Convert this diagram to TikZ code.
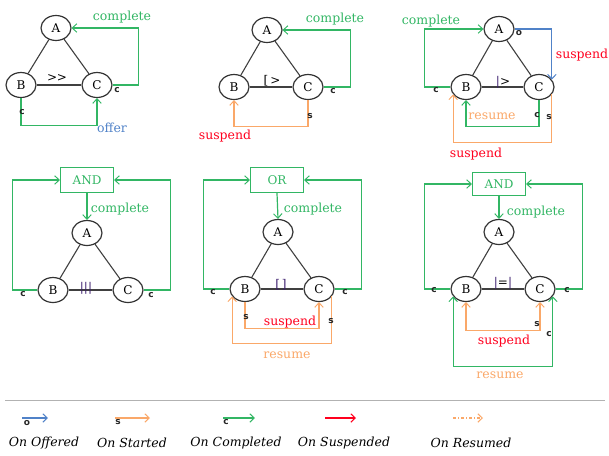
\documentclass[tikz,border=0pt]{standalone}
\usepackage{fontspec}
\setmainfont{DejaVu Serif}
\newfontfamily\smallsans{DejaVu Sans}
\usetikzlibrary{shapes.geometric,arrows.meta}
\definecolor{cgreen}{RGB}{50,182,100}
\definecolor{cblue}{RGB}{80,130,200}
\definecolor{corange}{RGB}{250,168,105}
\definecolor{cred}{RGB}{255,0,30}
\definecolor{cpurple}{RGB}{60,30,110}
\tikzset{
  st/.style={ellipse,draw=black!80,line width=1.2pt,minimum width=30pt,minimum height=25pt,inner sep=0pt,font=\fontsize{12}{14}\selectfont},
  opbox/.style={rectangle,draw=cgreen,line width=1.2pt,minimum width=53pt,minimum height=25pt,inner sep=0pt,text=cgreen,font=\fontsize{12}{14}\selectfont},
  edge/.style={draw=black!75,line width=1.1pt},
  tip/.style={-{Straight Barb[length=4.5pt,width=8.5pt,line width=1pt]}},
  bitip/.style={{Straight Barb[length=4.5pt,width=8.5pt,line width=1pt]}-{Straight Barb[length=4.5pt,width=8.5pt,line width=1pt]}},
  garr/.style={draw=cgreen,line width=1.2pt},
  oarr/.style={draw=corange,line width=1.2pt},
  barr/.style={draw=cblue,line width=1.2pt},
  rarr/.style={draw=cred,line width=1.2pt},
  lbl/.style={font=\fontsize{12.5}{14}\selectfont,inner sep=0pt},
  sm/.style={font=\smallsans\bfseries\fontsize{9}{10}\selectfont,text=black!85,inner sep=0pt},
  opl/.style={font=\fontsize{12}{14}\selectfont,inner sep=0pt},
  leg/.style={font=\itshape\fontsize{12.5}{14}\selectfont,inner sep=0pt}
}
\begin{document}
\begin{tikzpicture}[x=1pt,y=-1pt]
\useasboundingbox (0,0) rectangle (609,455);
% ---------- Panel 1 ----------
\node[st] (A1) at (56,28) {A};
\node[st] (B1) at (21,85) {B};
\node[st] (C1) at (97,85) {C};
\draw[edge] (A1) -- (B1);
\draw[edge] (A1) -- (C1);
\draw[edge] (B1) -- (C1);
\node[opl] (op1) at (57,78) {\textgreater\kern-0.5pt\textgreater};
\draw[garr,tip] (C1.east) -- ++(26,0) |- (A1.east);
\node[lbl,text=cgreen] (t1a) at (122,17) {complete};
\node[sm] (c1a) at (117,90) {c};
\draw[garr,tip] (B1.south) -- ++(0,27) -| (C1.south);
\node[sm] (c1b) at (22,112) {c};
\node[lbl,text=cblue] (t1b) at (112,128) {offer};
% ---------- Panel 2 ----------
\node[st] (A2) at (267,30) {A};
\node[st] (B2) at (234,87) {B};
\node[st] (C2) at (308,87) {C};
\draw[edge] (A2) -- (B2);
\draw[edge] (A2) -- (C2);
\draw[edge] (B2) -- (C2);
\node[opl] (op2) at (272,81) {[\,\textgreater};
\draw[garr,tip] (C2.east) -- ++(27,0) |- (A2.east);
\node[lbl,text=cgreen] (t2a) at (335,19) {complete};
\node[sm] (c2a) at (333,91) {c};
\draw[oarr,tip] (C2.south) -- ++(0,26) -| (B2.south);
\node[sm] (s2a) at (310,116) {s};
\node[lbl,text=cred] (t2b) at (225,136) {suspend};
% ---------- Panel 3 ----------
\node[st] (A3) at (499,29) {A};
\node[st] (B3) at (466,87) {B};
\node[st] (C3) at (539,87) {C};
\draw[edge] (A3) -- (B3);
\draw[edge] (A3) -- (C3);
\draw[edge] (B3) -- (C3);
\node[opl] (op3) at (503,82) {\textcolor{cpurple}{|}\textgreater};
\draw[garr,tip] (B3.west) -- ++(-26,0) |- (A3.west);
\node[lbl,text=cgreen] (t3a) at (431,21) {complete};
\node[sm] (c3a) at (436,90) {c};
\draw[barr,tip] (A3.east) -| (C3.30);
\node[sm] (o3a) at (519,33) {o};
\node[lbl,text=cred] (t3b) at (582,55) {suspend};
\draw[garr,tip] (C3.south) -- ++(0,26) -| (B3.south);
\node[sm] (c3b) at (537,115) {c};
\node[lbl,text=corange] (t3c) at (492,116) {resume};
\draw[oarr,tip] (C3.-30) -- ++(0,48) -| (B3.-150);
\node[sm] (s3a) at (549,117) {s};
\node[lbl,text=cred] (t3d) at (476,154) {suspend};
% ---------- Panel 4 ----------
\node[opbox] (N4) at (87,180) {AND};
\node[st] (A4) at (87,233) {A};
\node[st] (B4) at (53,290) {B};
\node[st] (C4) at (128,290) {C};
\draw[edge] (A4) -- (B4);
\draw[edge] (A4) -- (C4);
\draw[edge] (B4) -- (C4);
\node[opl,text=cpurple] (op4) at (86,288) {|||};
\draw[garr,tip] (B4.west) -- ++(-25,0) |- (N4.west);
\draw[garr,tip] (C4.east) -- ++(27,0) |- (N4.east);
\draw[garr,tip] (N4.south) -- (A4.north);
\node[lbl,text=cgreen] (t4a) at (120,209) {complete};
\node[sm] (c4a) at (23,294) {c};
\node[sm] (c4b) at (151,295) {c};
% ---------- Panel 5 ----------
\node[opbox] (N5) at (277,180) {OR};
\node[st] (A5) at (278,232) {A};
\node[st] (B5) at (245,289) {B};
\node[st] (C5) at (319,289) {C};
\draw[edge] (A5) -- (B5);
\draw[edge] (A5) -- (C5);
\draw[edge] (B5) -- (C5);
\node[opl,text=cpurple] (op5) at (281,285) {[\,]};
\draw[garr,tip] (B5.west) -- ++(-26,0) |- (N5.west);
\draw[garr,tip] (C5.east) -- ++(27,0) |- (N5.east);
\draw[garr,tip] (N5.south) -- (A5.north);
\node[lbl,text=cgreen] (t5a) at (313,209) {complete};
\node[sm] (c5a) at (213,292) {c};
\node[sm] (c5b) at (345,292) {c};
\draw[oarr,tip] (B5.south) -- ++(0,26) -| (C5.south);
\node[sm] (s5a) at (246,317) {s};
\node[lbl,text=cred] (t5b) at (290,322) {suspend};
\draw[oarr,tip] (C5.-30) -- ++(0,47) -| (B5.-150);
\node[sm] (s5b) at (331,321) {s};
\node[lbl,text=corange] (t5c) at (287,355) {resume};
% ---------- Panel 6 ----------
\node[opbox,minimum height=23pt] (N6) at (499,184) {AND};
\node[st] (A6) at (499,232) {A};
\node[st] (B6) at (466,289) {B};
\node[st] (C6) at (540,289) {C};
\draw[edge] (A6) -- (B6);
\draw[edge] (A6) -- (C6);
\draw[edge] (B6) -- (C6);
\node[opl] (op6) at (503,283) {\textcolor{cpurple}{|}=\textcolor{cpurple}{|}};
\draw[garr,tip] (B6.west) -- ++(-26,0) |- (N6.west);
\draw[garr,tip] (C6.east) -- ++(27,0) |- (N6.east);
\draw[garr,tip] (N6.south) -- (A6.north);
\node[lbl,text=cgreen] (t6a) at (536,212) {complete};
\node[sm] (c6a) at (434,290) {c};
\node[sm] (c6b) at (567,290) {c};
\draw[oarr,bitip] (B6.south) -- ++(0,28) -| (C6.south);
\node[sm] (s6a) at (537,324) {s};
\node[lbl,text=cred] (t6b) at (504,341) {suspend};
\draw[garr,bitip] (B6.-150) -- ++(0,70) -| (C6.-30);
\node[sm] (c6c) at (549,334) {c};
\node[lbl,text=corange] (t6c) at (500,375) {resume};
% ---------- Legend ----------
\coordinate (L0) at (5,400);
\coordinate (L1) at (605,400);
\draw[draw=black!30,line width=0.8pt] (L0) -- (L1);
\coordinate (la1) at (22,418); \coordinate (lb1) at (48,418);
\coordinate (la2) at (115,418); \coordinate (lb2) at (150,418);
\coordinate (la3) at (223,418); \coordinate (lb3) at (255,418);
\coordinate (la4) at (325,418); \coordinate (lb4) at (356,418);
\coordinate (la5) at (453,418); \coordinate (lb5) at (483,418);
\draw[barr,tip] (la1) -- (lb1);
\draw[oarr,tip] (la2) -- (lb2);
\draw[garr,tip] (la3) -- (lb3);
\draw[rarr,tip] (la4) -- (lb4);
\draw[oarr,tip,dash pattern=on 3pt off 2pt on 1pt off 2pt] (la5) -- (lb5);
\node[sm] (lo) at (27,423) {o};
\node[sm] (ls) at (118,422) {s};
\node[sm] (lc) at (226,422) {c};
\node[leg] (g1) at (44,443) {On Offered};
\node[leg] (g2) at (132,443) {On Started};
\node[leg] (g3) at (236,443) {On Completed};
\node[leg] (g4) at (344,443) {On Suspended};
\node[leg] (g5) at (471,443) {On Resumed};
\end{tikzpicture}
\end{document}
